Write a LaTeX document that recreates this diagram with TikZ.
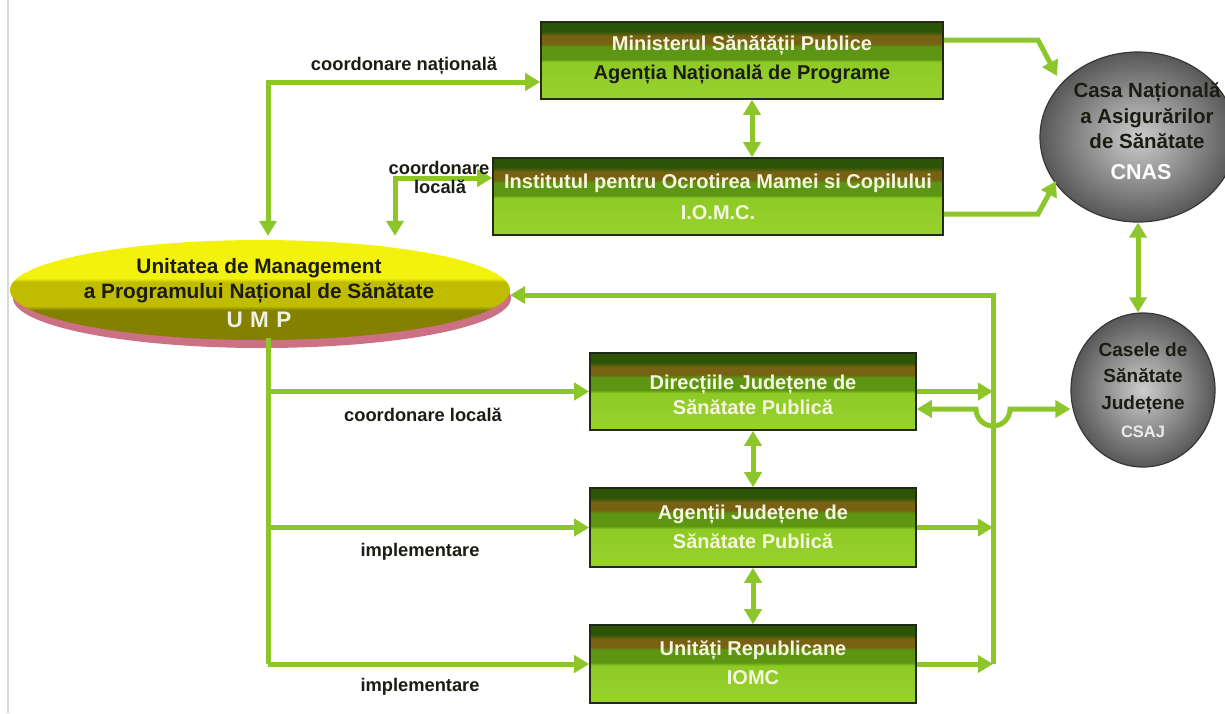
\documentclass[tikz,border=0pt]{standalone}
\usepackage{fontspec}
\setmainfont{Liberation Sans}
\usetikzlibrary{arrows.meta,shapes.geometric}
\definecolor{arrg}{RGB}{141,198,42}
\definecolor{gA}{RGB}{44,84,6}
\definecolor{gB}{RGB}{64,112,10}
\definecolor{gBr}{RGB}{118,98,18}
\definecolor{gC}{RGB}{92,150,18}
\definecolor{gD}{RGB}{142,202,38}
\definecolor{gE}{RGB}{152,210,46}
\definecolor{uY}{RGB}{242,242,12}
\definecolor{uM}{RGB}{192,188,0}
\definecolor{uO}{RGB}{132,128,0}
\definecolor{uP}{RGB}{204,112,132}
\definecolor{cIn}{RGB}{205,205,205}
\definecolor{cOut}{RGB}{88,88,88}
\definecolor{txtlight}{RGB}{246,246,222}
\definecolor{txtdark}{RGB}{28,28,20}
\pgfdeclareverticalshading{boxsh}{100bp}{color(0bp)=(gE); color(25bp)=(gE); color(49bp)=(gD); color(51bp)=(gC); color(59bp)=(gC); color(61bp)=(gBr); color(66bp)=(gBr); color(69bp)=(gA); color(75bp)=(gA); color(100bp)=(gA)}
\pgfdeclareverticalshading{umpsh}{100bp}{color(0bp)=(uO); color(25bp)=(uO); color(40bp)=(uO); color(42bp)=(uM); color(54bp)=(uM); color(56bp)=(uY); color(75bp)=(uY); color(100bp)=(uY)}
\tikzset{
  gbox/.style={draw={rgb,255:red,36;green,40;blue,24}, line width=1.6pt, shading=boxsh, rectangle, inner sep=0pt},
  btxt/.style={font=\fontsize{20}{29}\selectfont\bfseries, text=txtlight, align=center, inner sep=0pt},
  lbl/.style={font=\fontsize{18.3}{20}\selectfont\bfseries, text=txtdark, align=center, inner sep=0pt},
  circ/.style={ellipse, draw={rgb,255:red,55;green,55;blue,55}, line width=1.2pt, shading=radial, inner color=cIn, outer color=cOut, inner sep=0pt},
  ctxt/.style={font=\fontsize{20.5}{25.5}\selectfont\bfseries, text=txtdark, align=center, inner sep=0pt},
  tip/.tip={Triangle[length=15pt,width=17pt]},
  ln/.style={draw=arrg, line width=5pt},
  arr/.style={ln, -tip},
  dbl/.style={ln, tip-tip}
}
\begin{document}
\begin{tikzpicture}[x=1pt,y=-1pt]
\useasboundingbox (0,0) rectangle (1225,713);
\fill[white] (0,0) rectangle (1225,713);
\draw[gray!30, line width=1.3pt] (8,0) -- (8,713);

% UMP ellipse
\fill[uP] (262,298) ellipse [x radius=249, y radius=50];
\node[ellipse, shading=umpsh, minimum width=500pt, minimum height=100pt, inner sep=0pt] (ump) at (260,290) {};
\node[font=\fontsize{20.8}{24.5}\selectfont\bfseries, text=txtdark, align=center, inner sep=0pt] (umpt) at (259,281) {Unitatea de Management\\a Programului Național de Sănătate};
\node[font=\fontsize{22.5}{24}\selectfont\bfseries, text={rgb,255:red,240;green,240;blue,225}, inner sep=0pt] (umpa) at (259,320) {U\,\,M\,\,P};

% boxes
\node[gbox, minimum width=402pt, minimum height=77pt] (min) at (742,60.5) {};
\node[btxt] (mint) at (742,60) {Ministerul Sănătății Publice\\\textcolor{txtdark}{Agenția Națională de Programe}};
\node[gbox, minimum width=450pt, minimum height=77pt] (iomc) at (718,196.5) {};
\node[btxt, font=\fontsize{20}{31}\selectfont\bfseries] (iomct) at (718,197) {Institutul pentru Ocrotirea Mamei si Copilului\\I.O.M.C.};
\node[gbox, minimum width=326pt, minimum height=77pt] (dir) at (753,391.5) {};
\node[btxt, font=\fontsize{20}{25}\selectfont\bfseries] (dirt) at (753,395) {Direcțiile Județene de\\Sănătate Publică};
\node[gbox, minimum width=326pt, minimum height=79pt] (ag) at (753,527.5) {};
\node[btxt] (agt) at (753,527) {Agenții Județene de\\Sănătate Publică};
\node[gbox, minimum width=326pt, minimum height=78pt] (un) at (753,664) {};
\node[btxt] (unt) at (753,663) {Unități Republicane\\IOMC};

% circles
\node[circ, minimum width=196pt, minimum height=170pt] (cnas) at (1138,137) {};
\node[ctxt] (cnast) at (1147,116) {Casa Națională\\a Asigurărilor\\de Sănătate};
\node[font=\fontsize{21.5}{24}\selectfont\bfseries, text=white, inner sep=0pt] (cnasa) at (1141,172) {CNAS};
\node[circ, minimum width=144pt, minimum height=154pt] (csaj) at (1143,390) {};
\node[ctxt, font=\fontsize{19}{26.5}\selectfont\bfseries] (csajt) at (1143,378) {Casele de\\Sănătate\\Județene};
\node[font=\fontsize{16.5}{20}\selectfont\bfseries, text={rgb,255:red,235;green,235;blue,235}, inner sep=0pt] (csaja) at (1143,432) {CSAJ};

% coordinates
\coordinate (cn) at (268,82);
\coordinate (cl) at (395,178);
\coordinate (vt) at (993,295);
\coordinate (s0) at (268,338);

% connectors top
\draw[dbl, shorten >=4pt] (min.west |- cn) -- (cn) -- (cn |- ump.north);
\draw[dbl, shorten >=4pt] (iomc.west |- cl) -- (cl) -- (cl |- ump.north);
\draw[dbl] (min.south -| 752,0) -- (iomc.north -| 752,0);
\draw[arr] (min.east |- 0,40) -- (1038,40) -- (1057,76);
\draw[arr] (iomc.east |- 0,214) -- (1038,214) -- (1056,181);
\draw[dbl] (cnas.south) -- (cnas.south |- csaj.north);

% return line into UMP
\draw[arr] (un.east -| vt) -- (vt) -- (vt -| ump.east);
\draw[arr] (dir.east) -- (dir.east -| vt);
\draw[arr] (ag.east) -- (ag.east -| vt);
\draw[arr] (un.east) -- (un.east -| vt);
\draw[dbl] (dir.east |- 0,409) -- (976,409) arc[start angle=180, end angle=0, radius=17] -- (csaj.west |- 0,409);

% UMP stem
\draw[ln] (s0) -- (s0 |- un.west);
\draw[arr] (s0 |- dir.west) -- (dir.west);
\draw[arr] (s0 |- ag.west) -- (ag.west);
\draw[arr] (s0 |- un.west) -- (un.west);
\draw[dbl] (dir.south) -- (ag.north);
\draw[dbl] (ag.south) -- (un.north);

% labels
\node[lbl] (l1) at (404,66) {coordonare națională};
\node[lbl] (l2) at (439,168) {coordonare};
\node[lbl] (l3) at (440,187) {locală};
\node[lbl] (l4) at (423,415) {coordonare locală};
\node[lbl] (l5) at (420,552) {implementare};
\node[lbl] (l6) at (420,687) {implementare};
\end{tikzpicture}
\end{document}
